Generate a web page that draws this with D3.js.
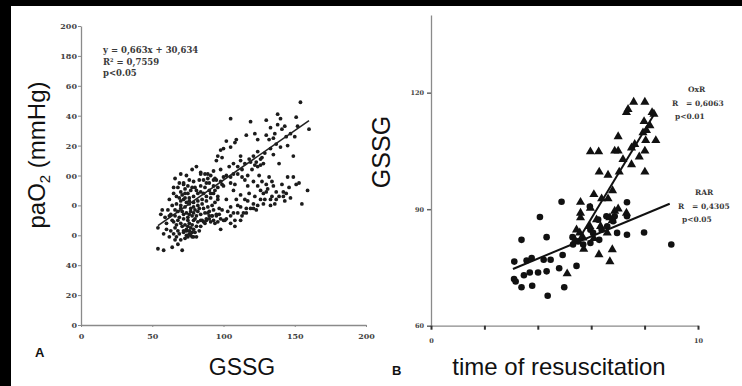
<!DOCTYPE html>
<html>
<head>
<meta charset="utf-8">
<script src="https://cdn.jsdelivr.net/npm/d3@7"></script>
<style>
    body { margin: 0; background: #fff; }
    svg { display: block; }
    .tick text { font-family: "DejaVu Serif", serif; font-weight: bold; fill: #444; }
    .note { font-family: "DejaVu Serif", serif; font-weight: bold; fill: #3a3a3a; }
    .label { font-family: "Liberation Sans", Arial, sans-serif; fill: #111; }
</style>
</head>
<body>
<svg id="chart" width="742" height="386"></svg>
<script>
// ---- Panel A: paO2 vs GSSG ----
const yTicksA = [0, 20, 40, 60, 80, 100, 120, 140, 160, 180, 200];
// labels as they appear (partly hidden behind the axis title box)
const yLabelsA = ["0", "20", "40", "0", "0", "00", "20", "40", "60", "180", "200"];
const xTicksA = [0, 50, 100, 150, 200];
const fitA = { slope: 0.663, intercept: 30.634, from: 54, to: 160 };

// dense cluster at low GSSG
const clusterA = [
    [66,98],[70,101],[74,100],[78,104],[81,106],[84,102],[87,101],[83,97],[79,96],[75,93],
    [72,95],[68,92],[70,89],[73,88],[77,90],[80,92],[84,93],[88,95],[90,90],[86,88],
    [82,88],[79,86],[76,85],[72,84],[69,85],[67,81],[70,80],[73,79],[76,81],[79,82],
    [82,83],[85,84],[88,83],[91,85],[92,80],[89,79],[86,78],[83,78],[80,77],[77,76],
    [74,75],[71,76],[68,76],[66,73],[69,72],[72,71],[75,72],[78,73],[81,73],[84,74],
    [87,75],[90,76],[92,73],[88,71],[85,70],[82,69],[79,70],[76,68],[73,67],[70,68],
    [67,67],[65,69],[63,74],[61,77],[57,77],[62,73],[64,70],[60,64],[58,61],[54,65],
    [62,59],[65,61],[66,57],[64,52],[68,54],[71,50],[54,51],[58,50],[69,61],[72,63],
    [74,60],[78,59],[80,62],[77,65],[74,64],[71,66],[68,63],[66,65],[75,70],[78,67],
    [81,66],[84,66],[80,71],[77,78],[74,82],[71,87],[75,88],[78,92],[81,90],[84,89],
    [87,92],[90,95],[93,97],[91,100],[86,97],[76,97],[73,91],[69,95],[65,88],[67,86],
    [70,83],[73,85],[76,83],[79,79],[82,80],[85,81],[88,86],[91,88],[94,90],[96,86],
    [94,82],[93,77],[95,74],[97,78],[96,92],[98,96],[100,93],[93,93],[89,98],[64,80],
    [62,84],[66,77],[76,74],[79,75],[82,76],[87,68],[90,73],[72,74],[70,78],[68,70],
    [75,66],[79,64],[83,63],[76,61],[73,58],[70,57],[67,59],[63,63],[60,68],[59,72],
    [56,74],[72,62],[74,63],[76,63],[78,62],[77,60],[75,59],[79,59],[81,59],[65,92],
    [72,94]
];
// upper branch, along the fitted line
const upperA = [
    [154,149],[151,139],[160,131],[138,141],[140,138],[138,134],[141,131],[130,137],[133,132],[119,136],
    [116,127],[122,128],[124,124],[130,127],[132,124],[136,128],[135,125],[143,133],[144,126],[145,120],
    [149,113],[140,119],[139,108],[133,118],[124,116],[121,113],[123,109],[126,107],[122,107],[119,109],
    [107,101],[105,99],[110,106],[112,110],[120,104],[117,100],[113,99],[105,138],[108,122],[105,119],
    [109,124],[102,123],[100,118],[98,117],[96,113],[99,112],[95,110],[107,108],[89,101],[93,103],
    [84,101],[127,112],[128,108],[124,106],[115,108],[118,111],[113,104],[102,100],[98,104],[94,98],
    [110,101],[126,111],[129,115],[135,114],[147,128],[152,133],[150,126],[137,121],[112,113],[104,106]
];
// lower branch
const lowerA = [
    [149,99],[145,99],[151,94],[159,90],[155,81],[144,88],[142,89],[139,86],[143,83],[137,84],
    [134,86],[130,89],[128,88],[124,93],[122,86],[126,84],[121,81],[117,83],[116,78],[121,78],
    [123,77],[114,75],[112,79],[130,94],[132,99],[125,100],[127,96],[129,84],[133,80],[136,81],
    [137,89],[135,93],[134,96],[141,94],[147,85],[142,86],[133,84],[128,81],[124,80],[119,78],
    [116,75],[113,73],[110,75],[107,75],[108,70],[105,73],[102,71],[100,70],[98,71],[95,73],
    [93,70],[91,69],[88,70],[86,69],[84,70],[98,64],[112,70],[108,66],[105,68],[101,70],
    [96,69],[94,68],[92,73],[89,75],[105,79],[102,84],[99,94],[107,90],[112,87],[117,93],
    [109,84],[115,84],[96,84],[93,88],[95,97],[100,99],[105,95],[108,94],[121,96],[115,97],
    [118,88],[126,90],[131,91],[146,92],[153,95],[110,80],[103,76],[99,77],[97,74],[90,71]
];

// ---- Panel B: GSSG vs time of resuscitation ----
const yTicksB = [60, 90, 120];
const xTicksB = [0, 2, 4, 6, 8, 10];
const xLabelsB = ["0", "", "", "", "", "10"];
const rarPoints = [
    [3.12,76.5],[3.11,72.0],[3.17,71.4],[3.39,69.9],[3.39,82.1],[3.48,73.0],[3.58,76.8],[3.70,73.7],
    [3.77,77.4],[3.79,70.3],[4.01,73.7],[4.08,88.0],[4.22,77.0],[4.33,74.0],[4.33,82.8],[4.37,67.7],
    [4.48,77.0],[4.80,74.8],[4.89,91.9],[4.93,78.2],[4.99,69.9],[5.30,82.8],[5.45,75.4],[5.32,80.9],
    [5.51,81.7],[5.70,80.9],[5.95,90.7],[5.97,84.7],[5.97,81.3],[6.07,83.9],[6.30,82.1],[6.26,87.3],
    [6.39,84.7],[6.57,88.2],[6.60,85.6],[6.82,86.9],[6.88,88.2],[6.97,83.9],[7.34,91.8],[7.34,83.4],
    [7.34,88.2],[7.98,84.0],[9.00,80.9]
];
const oxrPoints = [
    [7.59,117.6],[8.01,117.6],[7.32,114.9],[7.38,115.7],[8.28,114.9],[8.35,114.5],[7.98,112.6],[8.07,110.3],
    [7.94,109.7],[8.42,107.7],[8.04,107.7],[7.01,108.7],[7.63,106.7],[7.51,105.8],[6.88,105.0],[7.01,105.0],
    [5.97,104.8],[6.28,104.8],[8.01,105.0],[7.19,102.8],[7.51,101.5],[8.01,99.6],[6.30,99.6],[6.63,98.8],
    [7.05,99.6],[6.80,94.8],[6.10,93.8],[6.39,92.7],[5.60,91.8],[6.63,92.7],[5.97,90.3],[5.60,89.0],
    [5.60,87.8],[6.20,87.3],[6.70,87.8],[6.88,89.5],[7.01,90.1],[7.32,89.0],[6.79,87.1],[5.95,85.6],
    [6.35,85.6],[6.60,83.9],[5.45,84.7],[5.72,79.7],[6.79,79.6],[6.29,78.3],[6.70,76.5],[5.10,73.4],
    [5.57,83.9],[5.70,82.6],[5.40,82.0],[6.10,82.5],[7.80,103.5],[8.20,111.5]
];
const oxrLine = [[5.45, 81.3], [8.38, 114.7]];
const rarLine = [[3.07, 74.6], [8.94, 91.4]];

const svg = d3.select("#chart");
svg.append("rect").attr("width", 742).attr("height", 386).attr("fill", "#fff");

// ---------- Panel A ----------
const xA = d3.scaleLinear().domain([0, 200]).range([81, 366]);
const yA = d3.scaleLinear().domain([0, 200]).range([325, 26]);

const gyA = svg.append("g")
    .attr("transform", "translate(81,0)")
    .call(d3.axisLeft(yA).tickValues(yTicksA).tickSize(3).tickSizeOuter(0).tickPadding(1)
        .tickFormat((d, i) => yLabelsA[i]));
const gxA = svg.append("g")
    .attr("transform", "translate(0,325)")
    .call(d3.axisBottom(xA).tickValues(xTicksA).tickSize(2).tickSizeOuter(0).tickPadding(6));
[gyA, gxA].forEach((g) => {
    g.select(".domain").attr("stroke", "#8a8a8a").attr("stroke-width", 1.3);
    g.selectAll(".tick line").attr("stroke", "#8a8a8a");
    g.selectAll(".tick text").style("font-size", "8px");
});

const dotsA = clusterA.concat(upperA, lowerA);
svg.append("g")
    .selectAll("circle")
    .data(dotsA)
    .join("circle")
    .attr("cx", (d) => xA(d[0]))
    .attr("cy", (d) => yA(d[1]))
    .attr("r", 1.9)
    .attr("fill", "#1c1c1c");

svg.append("line")
    .attr("x1", xA(fitA.from))
    .attr("y1", yA(fitA.slope * fitA.from + fitA.intercept))
    .attr("x2", xA(fitA.to))
    .attr("y2", yA(fitA.slope * fitA.to + fitA.intercept))
    .attr("stroke", "#222")
    .attr("stroke-width", 1.6);

const noteA = svg.append("g").attr("class", "note").style("font-size", "8.5px");
noteA.append("text").attr("x", 103).attr("y", 53).text("y = 0,663x + 30,634");
const r2 = noteA.append("text").attr("x", 103).attr("y", 65);
r2.append("tspan").text("R");
r2.append("tspan").attr("dy", -3).style("font-size", "5px").text("2");
r2.append("tspan").attr("dy", 3).text(" = 0,7559");
noteA.append("text").attr("x", 103).attr("y", 76).text("p<0.05");

// axis titles A
const yTitle = svg.append("text")
    .attr("class", "label")
    .attr("transform", "translate(45,155) rotate(-90)")
    .attr("text-anchor", "middle")
    .style("font-size", "24px");
yTitle.append("tspan").text("paO");
yTitle.append("tspan").attr("dy", 5).style("font-size", "15px").text("2");
yTitle.append("tspan").attr("dy", -5).text(" (mmHg)");

svg.append("text")
    .attr("class", "label")
    .attr("x", 242).attr("y", 375)
    .attr("text-anchor", "middle")
    .style("font-size", "23px")
    .text("GSSG");

svg.append("text")
    .attr("class", "label")
    .attr("x", 35).attr("y", 357)
    .style("font-size", "13px").style("font-weight", "bold").attr("fill", "#444")
    .text("A");

// ---------- Panel B ----------
const xB = d3.scaleLinear().domain([0, 10]).range([431, 698]);
const yB = d3.scaleLinear().domain([60, 140]).range([325.7, 15]);

const gyB = svg.append("g")
    .attr("transform", "translate(431,0)")
    .call(d3.axisLeft(yB).tickValues(yTicksB).tickSize(4).tickSizeOuter(0).tickPadding(3));
const gxB = svg.append("g")
    .attr("transform", "translate(0,325.7)")
    .call(d3.axisBottom(xB).tickValues(xTicksB).tickSize(4).tickSizeOuter(0).tickPadding(9)
        .tickFormat((d, i) => xLabelsB[i]));
[gyB, gxB].forEach((g) => {
    g.select(".domain").attr("stroke", "#8a8a8a").attr("stroke-width", 1.3);
    g.selectAll(".tick text").style("font-size", "6.5px");
});
gyB.selectAll(".tick line").attr("stroke", "#666").attr("stroke-width", 1.5);
gxB.selectAll(".tick line").attr("stroke", "#333").attr("stroke-width", 2);

const line = d3.line().x((d) => xB(d[0])).y((d) => yB(d[1]));

svg.append("g")
    .selectAll("circle")
    .data(rarPoints)
    .join("circle")
    .attr("cx", (d) => xB(d[0]))
    .attr("cy", (d) => yB(d[1]))
    .attr("r", 3.3)
    .attr("fill", "#111");

const tri = d3.symbol(d3.symbolTriangle, 36);
svg.append("g")
    .selectAll("path")
    .data(oxrPoints)
    .join("path")
    .attr("d", tri)
    .attr("transform", (d) => `translate(${xB(d[0])},${yB(d[1])})`)
    .attr("fill", "#111");

[oxrLine, rarLine].forEach((l) => {
    svg.append("path")
        .attr("d", line(l))
        .attr("stroke", "#111")
        .attr("stroke-width", 2)
        .attr("fill", "none");
});

// non-breaking spaces keep the wide gap after "R"
const gap = "\u00a0\u00a0\u00a0";
const noteB = svg.append("g").attr("class", "note").style("font-size", "7.5px");
noteB.append("text").attr("x", 688).attr("y", 92).text("OxR");
noteB.append("text").attr("x", 672).attr("y", 106).text("R" + gap + "= 0,6063");
noteB.append("text").attr("x", 675).attr("y", 119).text("p<0.01");
noteB.append("text").attr("x", 695).attr("y", 195).text("RAR");
noteB.append("text").attr("x", 678).attr("y", 209).text("R" + gap + "= 0,4305");
noteB.append("text").attr("x", 682).attr("y", 222).text("p<0.05");

svg.append("text")
    .attr("class", "label")
    .attr("transform", "translate(390,152) rotate(-90)")
    .attr("text-anchor", "middle")
    .style("font-size", "25px")
    .text("GSSG");

svg.append("text")
    .attr("class", "label")
    .attr("x", 559).attr("y", 375)
    .attr("text-anchor", "middle")
    .style("font-size", "24px")
    .text("time of resuscitation");

svg.append("text")
    .attr("class", "label")
    .attr("x", 392).attr("y", 375)
    .style("font-size", "13px").style("font-weight", "bold").attr("fill", "#444")
    .text("B");

// black frame strips of the original scan
svg.append("rect").attr("x", 0).attr("y", 0).attr("width", 742).attr("height", 6).attr("fill", "#000");
svg.append("rect").attr("x", 0).attr("y", 0).attr("width", 11).attr("height", 386).attr("fill", "#000");
</script>
</body>
</html>
